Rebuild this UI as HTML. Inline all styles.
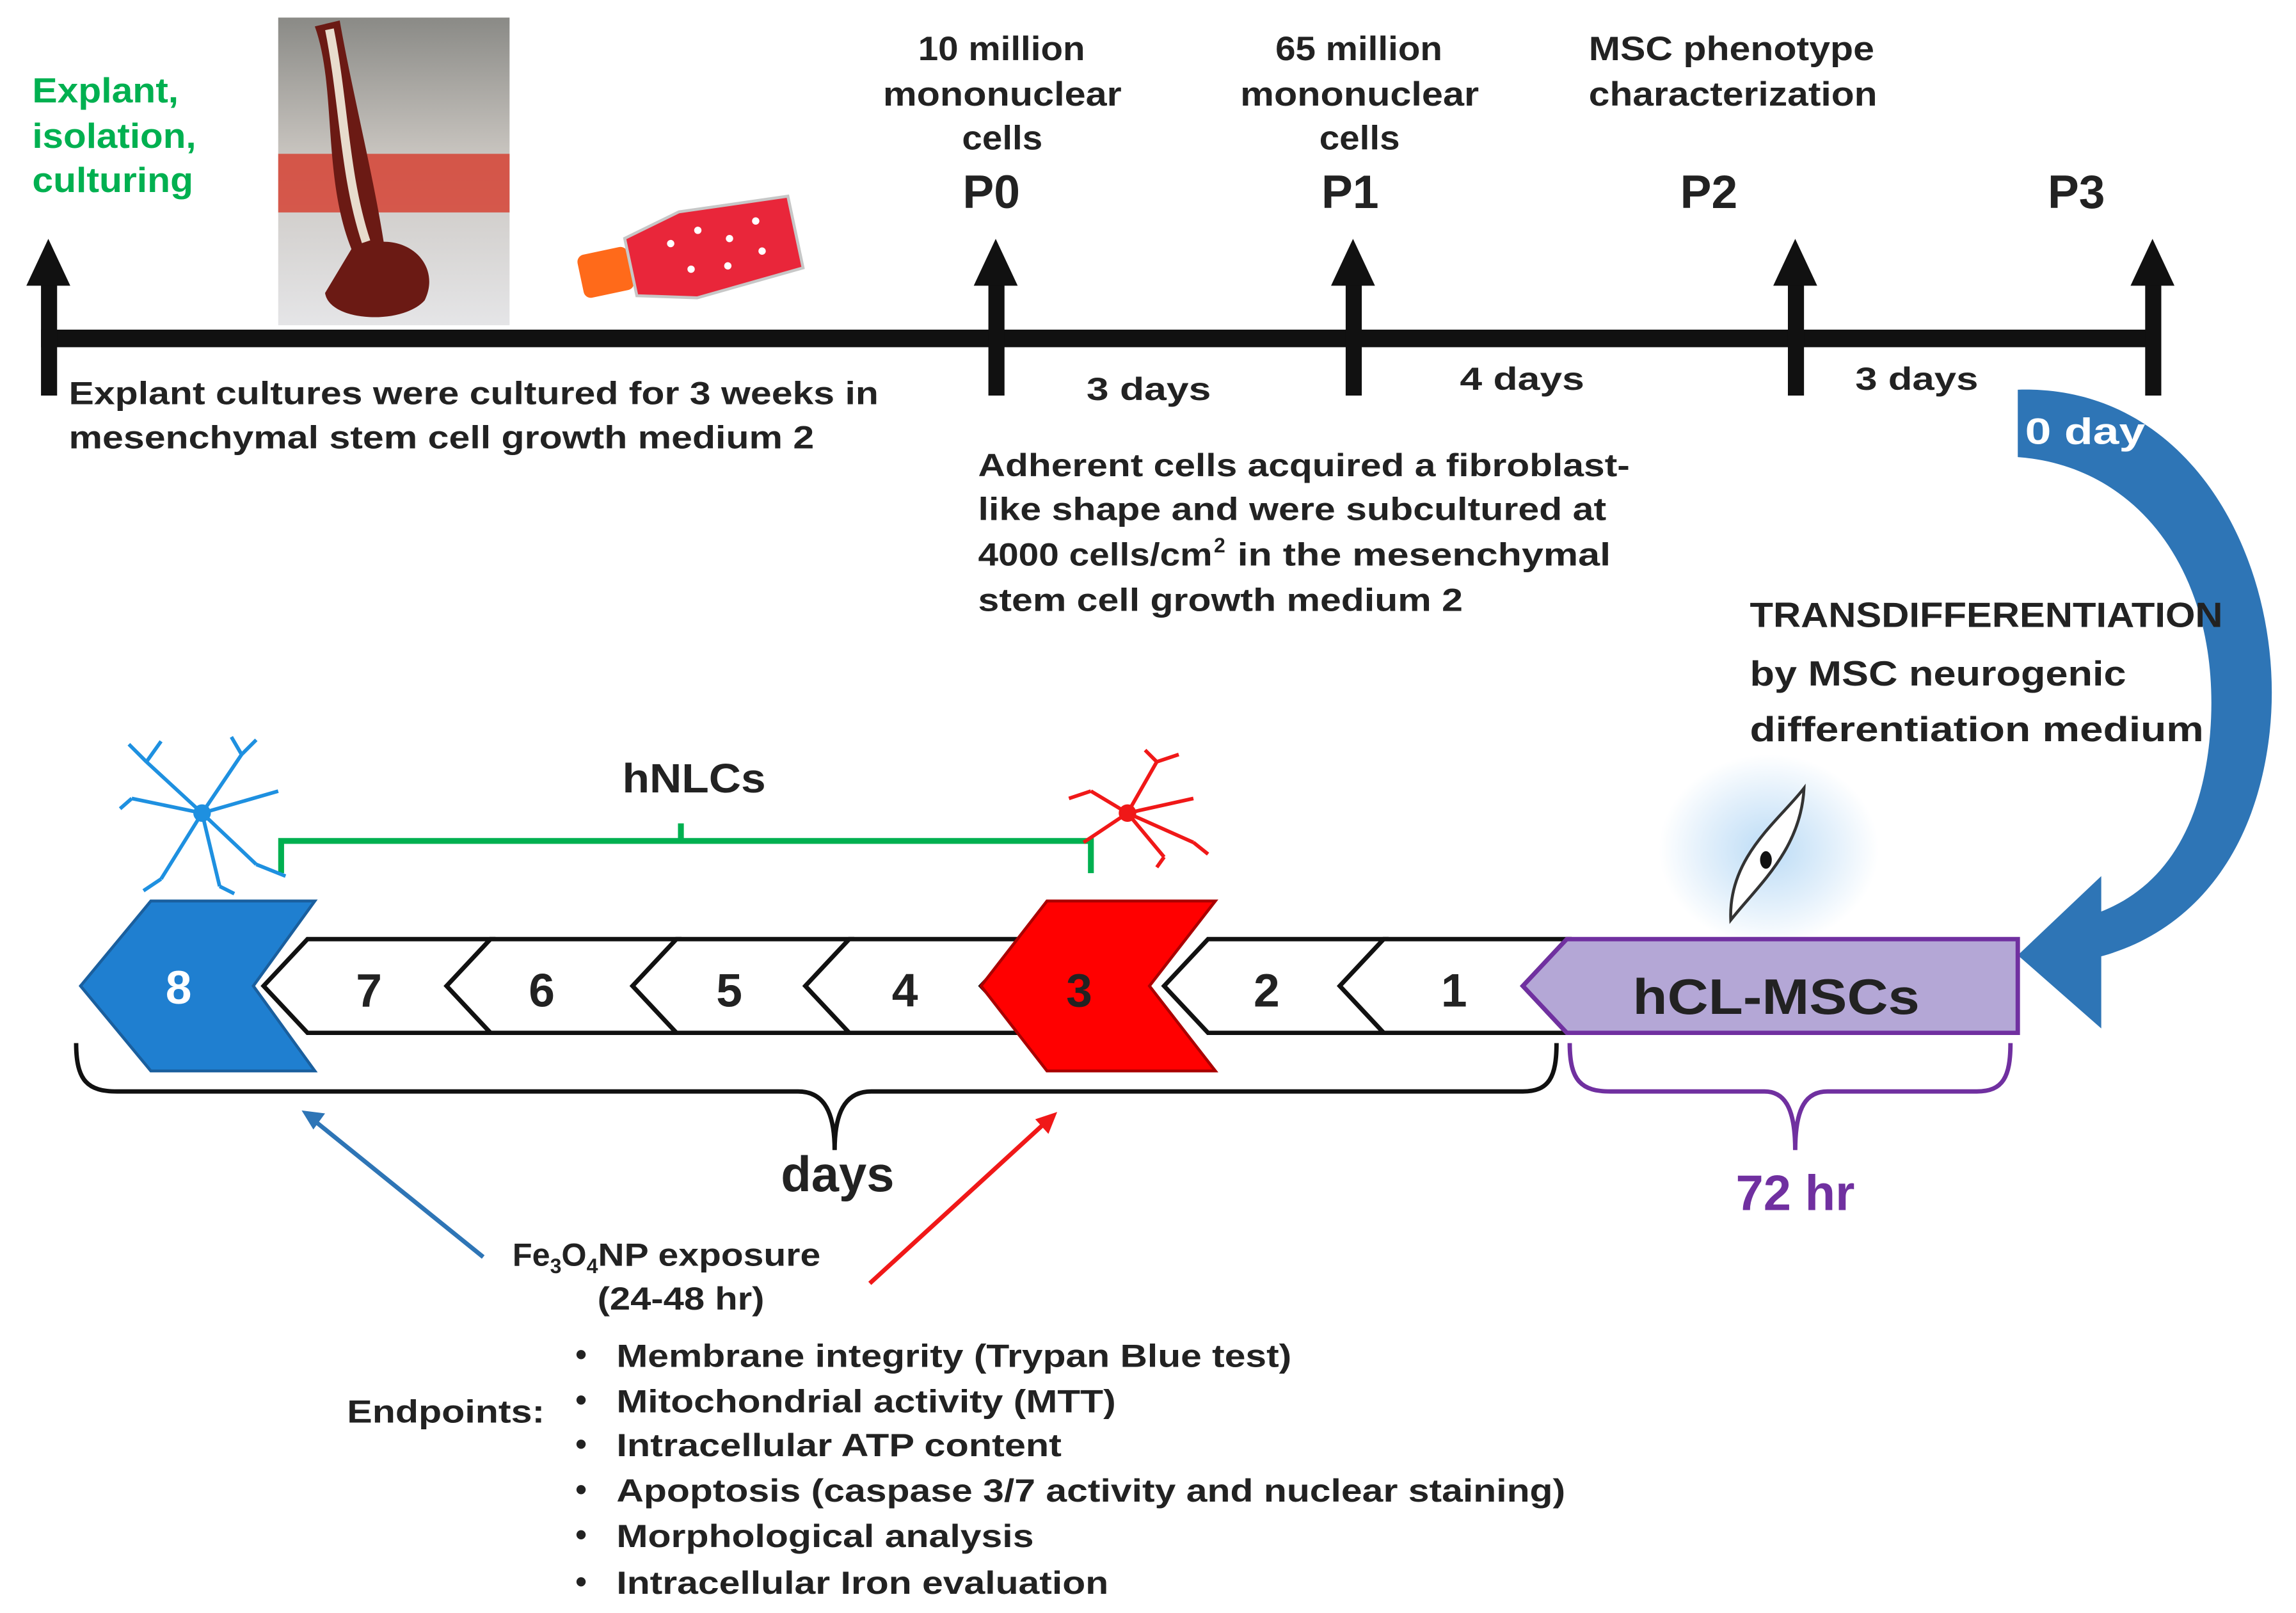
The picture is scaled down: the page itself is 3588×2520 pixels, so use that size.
<!DOCTYPE html>
<html><head><meta charset="utf-8"><style>
html,body{margin:0;padding:0;background:#fff;}
svg{display:block;}
text{font-family:"Liberation Sans",Arial,sans-serif;font-weight:bold;fill:#222;}
</style></head><body>
<svg width="3588" height="2520" viewBox="0 0 1568 1101" preserveAspectRatio="none" xmlns="http://www.w3.org/2000/svg">
<defs>
<radialGradient id="glow"><stop offset="0" stop-color="#bcdcf6"/><stop offset="0.6" stop-color="#e3f0fb"/><stop offset="1" stop-color="#fff"/></radialGradient>
<linearGradient id="photo" x1="0" y1="0" x2="0" y2="1"><stop offset="0" stop-color="#8a8a86"/><stop offset="0.45" stop-color="#c9c5c0"/><stop offset="1" stop-color="#e5e5e7"/></linearGradient>
</defs>
<rect x="28" y="225" width="1446" height="12" fill="#111"/>
<g fill="#111">
<rect x="28" y="190" width="11" height="80"/><polygon points="33,163 18,195 48,195"/>
<rect x="675" y="190" width="11" height="80"/><polygon points="680,163 665,195 695,195"/>
<rect x="919" y="190" width="11" height="80"/><polygon points="924,163 909,195 939,195"/>
<rect x="1221" y="190" width="11" height="80"/><polygon points="1226,163 1211,195 1241,195"/>
<rect x="1465" y="190" width="11" height="80"/><polygon points="1470,163 1455,195 1485,195"/>
</g>
<g font-size="24"><text x="22" y="70" style="fill:#00b050" textLength="100" lengthAdjust="spacingAndGlyphs">Explant,</text><text x="22" y="101" style="fill:#00b050" textLength="112" lengthAdjust="spacingAndGlyphs">isolation,</text><text x="22" y="131" style="fill:#00b050" textLength="110" lengthAdjust="spacingAndGlyphs">culturing</text></g>
<rect x="190" y="12" width="158" height="210" fill="url(#photo)"/>
<rect x="190" y="105" width="158" height="40" fill="#d63a2a" opacity="0.8"/>
<path d="M215,18 C230,60 220,120 240,170 L222,200 C225,220 275,222 290,205 C300,185 285,165 262,165 C255,120 240,60 232,14 Z" fill="#6b1a14"/>
<path d="M225,20 C235,70 235,120 250,165" stroke="#e8dccd" stroke-width="6" fill="none"/>
<g transform="rotate(-12 465 175)">
<rect x="395" y="160" width="35" height="30" rx="5" fill="#ff6a1a"/>
<polygon points="430,155 470,145 545,150 545,200 470,205 430,195" fill="#e9263a" stroke="#c7c7c7" stroke-width="2"/>
<g fill="#fff"><circle cx="460" cy="165" r="2.5"/><circle cx="480" cy="160" r="2.5"/><circle cx="500" cy="170" r="2.5"/><circle cx="520" cy="162" r="2.5"/><circle cx="470" cy="185" r="2.5"/><circle cx="495" cy="188" r="2.5"/><circle cx="520" cy="183" r="2.5"/></g>
</g>
<g font-size="23">
<text x="627" y="41" textLength="114" lengthAdjust="spacingAndGlyphs">10 million</text><text x="603" y="72" textLength="163" lengthAdjust="spacingAndGlyphs">mononuclear</text><text x="657" y="102" textLength="55" lengthAdjust="spacingAndGlyphs">cells</text>
<text x="871" y="41" textLength="114" lengthAdjust="spacingAndGlyphs">65 million</text><text x="847" y="72" textLength="163" lengthAdjust="spacingAndGlyphs">mononuclear</text><text x="901" y="102" textLength="55" lengthAdjust="spacingAndGlyphs">cells</text>
<text x="1085" y="41" textLength="195" lengthAdjust="spacingAndGlyphs">MSC phenotype</text><text x="1085" y="72" textLength="197" lengthAdjust="spacingAndGlyphs">characterization</text>
</g>
<g font-size="32" text-anchor="middle"><text x="677" y="142">P0</text><text x="922" y="142">P1</text><text x="1167" y="142">P2</text><text x="1418" y="142">P3</text></g>
<g font-size="22"><text x="47" y="276" textLength="553" lengthAdjust="spacingAndGlyphs">Explant cultures were cultured for 3 weeks in</text><text x="47" y="306" textLength="509" lengthAdjust="spacingAndGlyphs">mesenchymal stem cell growth medium 2</text>
<text x="742" y="273" textLength="85" lengthAdjust="spacingAndGlyphs">3 days</text><text x="997" y="266" textLength="85" lengthAdjust="spacingAndGlyphs">4 days</text><text x="1267" y="266" textLength="84" lengthAdjust="spacingAndGlyphs">3 days</text>
<text x="668" y="325" textLength="445" lengthAdjust="spacingAndGlyphs">Adherent cells acquired a fibroblast-</text><text x="668" y="355" textLength="429" lengthAdjust="spacingAndGlyphs">like shape and were subcultured at</text>
<text x="668" y="386" textLength="160" lengthAdjust="spacingAndGlyphs">4000 cells/cm</text><text x="829" y="377" font-size="14">2</text><text x="845" y="386" textLength="255" lengthAdjust="spacingAndGlyphs">in the mesenchymal</text>
<text x="668" y="417" textLength="331" lengthAdjust="spacingAndGlyphs">stem cell growth medium 2</text>
</g>
<path d="M1378,266 C1500,262 1562,390 1550,500 C1540,590 1490,640 1430,654 L1430,624 C1480,607 1507,560 1510,490 C1514,390 1460,318 1378,312 Z" fill="#2e75b6"/>
<polygon points="1378,652 1435,598 1435,702" fill="#2e75b6"/>
<text x="1383" y="303" font-size="25" style="fill:#fff" textLength="82" lengthAdjust="spacingAndGlyphs">0 day</text>
<g font-size="24"><text x="1195" y="428" textLength="323" lengthAdjust="spacingAndGlyphs">TRANSDIFFERENTIATION</text><text x="1195" y="468" textLength="257" lengthAdjust="spacingAndGlyphs">by MSC neurogenic</text><text x="1195" y="506" textLength="310" lengthAdjust="spacingAndGlyphs">differentiation medium</text></g>
<ellipse cx="1208" cy="580" rx="75" ry="65" fill="url(#glow)"/>
<path d="M1232,538 C1215,560 1180,585 1182,628 C1200,605 1230,580 1232,538 Z" fill="#fff" stroke="#333" stroke-width="2"/>
<ellipse cx="1206" cy="587" rx="4" ry="6" fill="#111"/>
<text x="425" y="541" font-size="28" textLength="98" lengthAdjust="spacingAndGlyphs">hNLCs</text>
<path d="M192,596 V574 H465 V562 M465,574 H745 V596" stroke="#00b050" stroke-width="4" fill="none"/>
<g stroke="#1e90e0" stroke-width="2.5" fill="none">
<path d="M138,555 L100,520 M138,555 L165,515 M138,555 L90,545 M138,555 L190,540 M138,555 L110,600 M138,555 L150,605 M138,555 L175,590 M100,520 L88,508 M100,520 L110,506 M165,515 L175,505 M165,515 L158,503 M110,600 L98,608 M150,605 L160,610 M175,590 L195,598 M90,545 L82,552"/>
</g><circle cx="138" cy="555" r="6" fill="#1e90e0"/>
<g stroke="#f01818" stroke-width="2.5" fill="none">
<path d="M770,555 L745,540 M770,555 L790,520 M770,555 L815,545 M770,555 L740,575 M770,555 L795,585 M770,555 L815,575 M790,520 L782,512 M790,520 L805,515 M745,540 L730,545 M795,585 L790,592 M815,575 L825,583"/>
</g><circle cx="770" cy="555" r="6" fill="#f01818"/>
<g stroke="#111" stroke-width="3" fill="#fff">
<polygon points="180,673 210,641 335,641 305,673 335,705 210,705"/>
<polygon points="305,673 335,641 462,641 432,673 462,705 335,705"/>
<polygon points="432,673 462,641 580,641 550,673 580,705 462,705"/>
<polygon points="550,673 580,641 700,641 670,673 700,705 580,705"/>
<polygon points="795,673 825,641 945,641 915,673 945,705 825,705"/>
<polygon points="915,673 945,641 1070,641 1040,673 1070,705 945,705"/>
</g>
<polygon points="1040,673 1070,641 1378,641 1378,705 1070,705" fill="#b4a7d6" stroke="#7030a0" stroke-width="3"/>
<polygon points="670,673 715,615 830,615 785,673 830,731 715,731" fill="#ff0000" stroke="#a00" stroke-width="2"/>
<polygon points="55,673 103,615 215,615 173,673 215,731 103,731" fill="#1f7fd0" stroke="#1a5f9e" stroke-width="2"/>
<g font-size="32" text-anchor="middle">
<text x="122" y="685" style="fill:#fff">8</text><text x="252" y="687">7</text><text x="370" y="687">6</text><text x="498" y="687">5</text><text x="618" y="687">4</text><text x="737" y="687">3</text><text x="865" y="687">2</text><text x="993" y="687">1</text>
</g>
<text x="1115" y="692" font-size="34" textLength="196" lengthAdjust="spacingAndGlyphs">hCL-MSCs</text>
<path d="M52,712 C52,738 60,745 80,745 H545 C560,745 570,755 570,785 C570,755 580,745 595,745 H1040 C1058,745 1063,735 1063,712" stroke="#111" stroke-width="3" fill="none"/>
<text x="572" y="813" font-size="34" text-anchor="middle">days</text>
<path d="M1072,712 C1072,738 1080,745 1100,745 H1205 C1218,745 1226,755 1226,785 C1226,755 1234,745 1248,745 H1350 C1368,745 1373,735 1373,712" stroke="#7030a0" stroke-width="3" fill="none"/>
<text x="1226" y="826" font-size="34" text-anchor="middle" style="fill:#7030a0">72 hr</text>
<line x1="330" y1="858" x2="216" y2="766" stroke="#2e75b6" stroke-width="3"/><polygon points="206,758 222,760 214,771" fill="#2e75b6"/>
<line x1="594" y1="876" x2="712" y2="768" stroke="#f01818" stroke-width="3"/><polygon points="722,759 716,774 707,764" fill="#f01818"/>
<g font-size="22"><text x="350" y="864">Fe<tspan font-size="14" dy="5">3</tspan><tspan dy="-5">O</tspan><tspan font-size="14" dy="5">4</tspan><tspan dy="-5" textLength="152" lengthAdjust="spacingAndGlyphs">NP exposure</tspan></text><text x="408" y="894" textLength="114" lengthAdjust="spacingAndGlyphs">(24-48 hr)</text></g>
<g font-size="22"><text x="237" y="971" textLength="135" lengthAdjust="spacingAndGlyphs">Endpoints:</text>
<text x="393" y="932">•</text><text x="421" y="933" textLength="461" lengthAdjust="spacingAndGlyphs">Membrane integrity (Trypan Blue test)</text>
<text x="393" y="963">•</text><text x="421" y="964" textLength="341" lengthAdjust="spacingAndGlyphs">Mitochondrial activity (MTT)</text>
<text x="393" y="993">•</text><text x="421" y="994" textLength="304" lengthAdjust="spacingAndGlyphs">Intracellular ATP content</text>
<text x="393" y="1024">•</text><text x="421" y="1025" textLength="648" lengthAdjust="spacingAndGlyphs">Apoptosis (caspase 3/7 activity and nuclear staining)</text>
<text x="393" y="1055">•</text><text x="421" y="1056" textLength="285" lengthAdjust="spacingAndGlyphs">Morphological analysis</text>
<text x="393" y="1087">•</text><text x="421" y="1088" textLength="336" lengthAdjust="spacingAndGlyphs">Intracellular Iron evaluation</text>
</g>
</svg>
</body></html>
